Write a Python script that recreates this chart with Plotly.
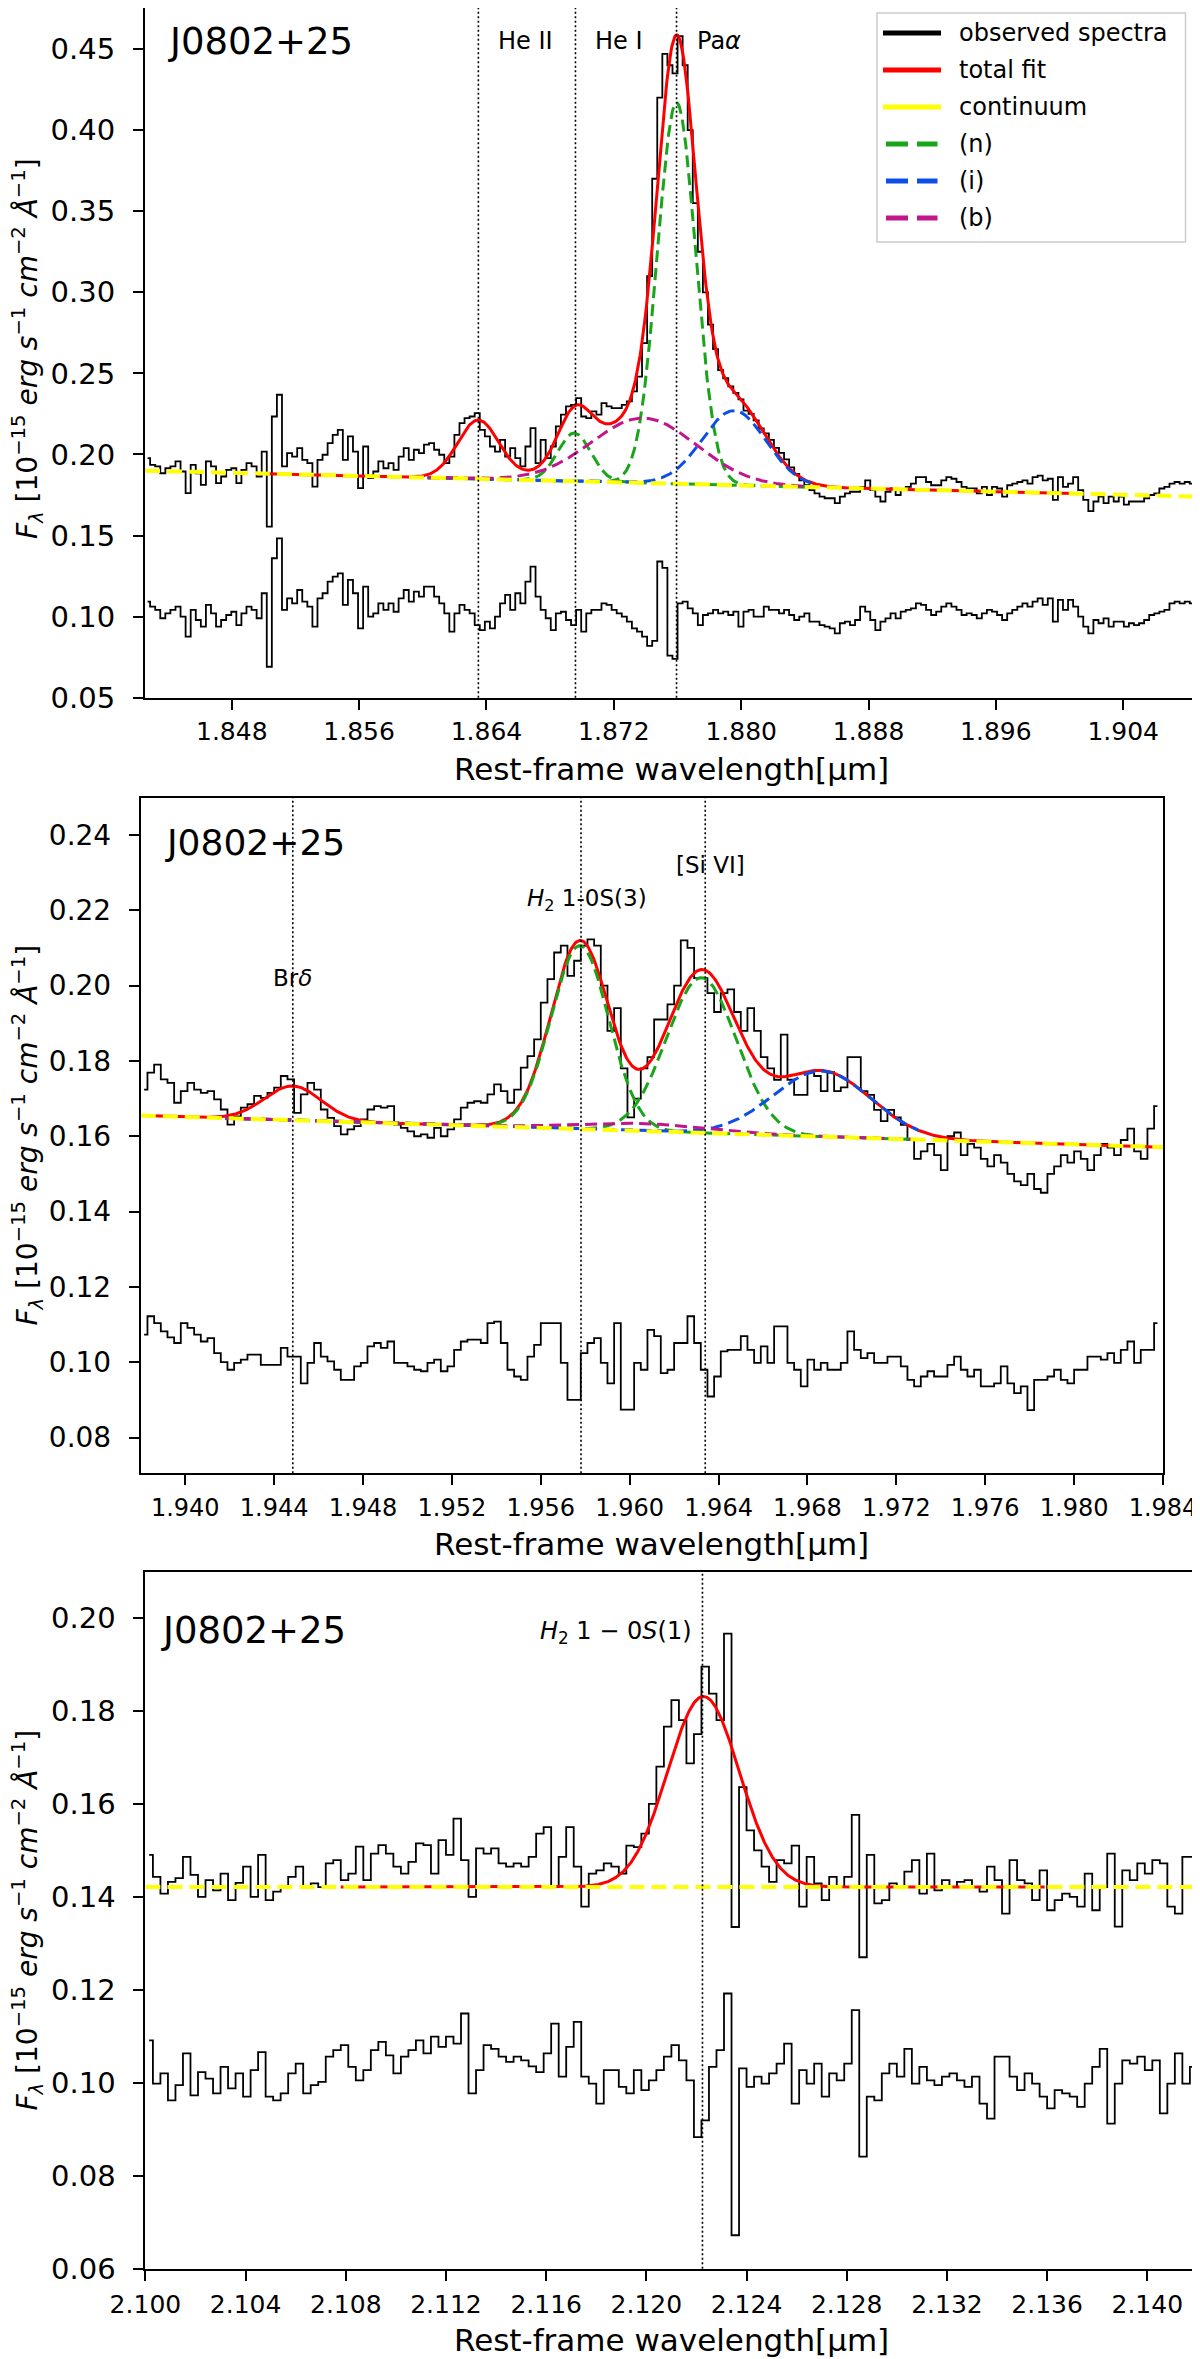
import numpy as np
import plotly.graph_objects as go

# ---------------- data ----------------
# Panel 1 : He II / He I / Pa alpha region (binned spectrum, bin centres = WAVE0 + STEP*(i+0.5))
P1_WAVE0 = 1.84255
P1_STEP = 0.0003186
P1_FLUX = [
    0.1977, 0.1936, 0.1926, 0.1884, 0.1915, 0.1926, 0.1957, 0.1895, 0.1761, 0.1936,
    0.1884, 0.1812, 0.1957, 0.1926, 0.1823, 0.1864, 0.1905, 0.1915, 0.1823, 0.1905,
    0.1946, 0.1926, 0.1864, 0.2018, 0.1555, 0.2234, 0.2368, 0.1926, 0.2008, 0.1987,
    0.2039, 0.1967, 0.1946, 0.1802, 0.1967, 0.1998, 0.2070, 0.2121, 0.2152, 0.1967,
    0.2111, 0.2018, 0.1792, 0.2049, 0.1854, 0.1895, 0.1957, 0.1915, 0.1946, 0.1905,
    0.1987, 0.2039, 0.1967, 0.2029, 0.2008, 0.2060, 0.2070, 0.2029, 0.1998, 0.1946,
    0.1987, 0.2121, 0.2193, 0.2224, 0.2234, 0.2255, 0.2152, 0.2111, 0.2049, 0.2018,
    0.2090, 0.1987, 0.2039, 0.1977, 0.1926, 0.2049, 0.2162, 0.1946, 0.2090, 0.1977,
    0.2049, 0.2173, 0.2245, 0.2296, 0.2306, 0.2347, 0.2234, 0.2224, 0.2265, 0.2245,
    0.2317, 0.2296, 0.2286, 0.2286, 0.2306, 0.2327, 0.2389, 0.2480, 0.2687,
    0.310, 0.370, 0.420, 0.447, 0.440, 0.435, 0.458, 0.440, 0.400, 0.355,
    0.325, 0.300, 0.280, 0.265,
    0.252, 0.247, 0.242, 0.238, 0.234, 0.227, 0.225, 0.221, 0.216, 0.213,
    0.209, 0.204, 0.201, 0.197, 0.192, 0.188, 0.184, 0.181, 0.178, 0.176,
    0.174, 0.173, 0.173, 0.170, 0.174, 0.176, 0.177, 0.177, 0.180, 0.184,
    0.178, 0.174, 0.171, 0.177, 0.179, 0.175, 0.178, 0.180, 0.182, 0.186,
    0.186, 0.183, 0.181, 0.181, 0.184, 0.186, 0.185, 0.183, 0.180, 0.179,
    0.179, 0.176, 0.180, 0.175, 0.180, 0.179, 0.174, 0.181, 0.182, 0.183,
    0.184, 0.182, 0.186, 0.187, 0.184, 0.185, 0.172, 0.186, 0.180, 0.182,
    0.186, 0.178, 0.172, 0.165, 0.171, 0.174, 0.170, 0.174, 0.171, 0.174,
    0.169, 0.171, 0.171, 0.171, 0.173, 0.175, 0.176, 0.179, 0.180, 0.182,
    0.183, 0.182, 0.183, 0.182, 0.180,
]
P1_RESID = [
    0.1092, 0.1062, 0.1041, 0.0990, 0.1020, 0.1041, 0.1062, 0.1000, 0.0876, 0.1041,
    0.0979, 0.0938, 0.1072, 0.1020, 0.0938, 0.0979, 0.1010, 0.1030, 0.0948, 0.1020,
    0.1062, 0.1041, 0.0990, 0.1144, 0.0691, 0.1360, 0.1483, 0.1041, 0.1113, 0.1082,
    0.1164, 0.1092, 0.1062, 0.0938, 0.1113, 0.1144, 0.1216, 0.1247, 0.1267, 0.1072,
    0.1226, 0.1144, 0.0928, 0.1185, 0.1000, 0.1020, 0.1082, 0.1041, 0.1082, 0.1030,
    0.1113, 0.1164, 0.1092, 0.1154, 0.1123, 0.1185, 0.1185, 0.1123, 0.1082, 0.1020,
    0.0907, 0.1020, 0.1072, 0.1041, 0.1020, 0.0948, 0.0917, 0.0969, 0.0928, 0.1000,
    0.1082, 0.1134, 0.1041, 0.1144, 0.1082, 0.1216, 0.1308, 0.1123, 0.1041, 0.0990,
    0.0917, 0.1020, 0.1030, 0.0979, 0.0948, 0.1041, 0.0907, 0.1020, 0.1041, 0.1041,
    0.1082, 0.1072, 0.1041, 0.1020, 0.1000, 0.0969, 0.0928, 0.0907, 0.0876,
    0.0820, 0.0850, 0.1340, 0.1300, 0.0760, 0.0740,
    0.1082, 0.1092, 0.1051, 0.1020, 0.0948, 0.1010, 0.1020, 0.1041, 0.1020, 0.1031,
    0.1010, 0.1031, 0.0938, 0.1031, 0.1041, 0.1000, 0.1000, 0.1062, 0.1041, 0.1041,
    0.1020, 0.1041, 0.1010, 0.0979, 0.1000, 0.1020, 0.0969, 0.0969, 0.0948, 0.0938,
    0.0928, 0.0897, 0.0959, 0.0969, 0.0948, 0.0979, 0.1062, 0.1031, 0.0979, 0.0917,
    0.0969, 0.0989, 0.1020, 0.0989, 0.1031, 0.1041, 0.1051, 0.1082, 0.1072, 0.1041,
    0.1010, 0.1031, 0.1062, 0.1082, 0.1062, 0.1041, 0.1010, 0.1020, 0.1010, 0.0989,
    0.1020, 0.1041, 0.1031, 0.1010, 0.0979, 0.1020, 0.1041, 0.1062, 0.1082, 0.1062,
    0.1092, 0.1113, 0.1072, 0.1113, 0.0969, 0.1103, 0.1041, 0.1103, 0.1062, 0.1000,
    0.0938, 0.0897, 0.0979, 0.0959, 0.0989, 0.0938, 0.0969, 0.0969, 0.0938, 0.0959,
    0.0948, 0.0959, 0.0979, 0.1010, 0.1020, 0.1031, 0.1041, 0.1082, 0.1092, 0.1082,
    0.1092, 0.1082, 0.1062,
]
P1_XRANGE = [1.842547, 1.908668]
P1_YRANGE = [0.05, 0.4753]
P1_CONT = [0.190, 0.174]            # continuum at the two ends of the x range
P1_FIT_WIN = [1.8496, 1.9012]
P1_COMP_WIN = [1.8603, 1.8844]
# gaussian components: (centre [um], peak above continuum, sigma [um])
P1_NARROW = [(1.86952, 0.0297, 0.00104), (1.87594, 0.235, 0.00120)]
P1_INTER = [(1.87956, 0.046, 0.0020)]
P1_BROAD = [(1.87388, 0.040, 0.0033)]
P1_OTHER = [(1.86348, 0.036, 0.00130)]   # He II, only in the total fit
P1_LINES = [1.86349, 1.86959, 1.87594]
P1_LINE_NAMES = ["He II", "He I", "Pa<i>α</i>"]

# Panel 2 : Br delta / H2 1-0 S(3) / [Si VI]
P2_WAVE0 = 1.938
P2_STEP = 0.0003
P2_FLUX = [
    0.1724, 0.1769, 0.1790, 0.1751, 0.1742, 0.1689, 0.1720, 0.1742, 0.1724, 0.1715,
    0.1720, 0.1698, 0.1671, 0.1631, 0.1653, 0.1676, 0.1685, 0.1707, 0.1702, 0.1715,
    0.1729, 0.1760, 0.1751, 0.1662, 0.1711, 0.1742, 0.1724, 0.1671, 0.1649, 0.1627,
    0.1605, 0.1618, 0.1627, 0.1645, 0.1671, 0.1680, 0.1676, 0.1680, 0.1631, 0.1622,
    0.1613, 0.1600, 0.1605, 0.1596, 0.1622, 0.1600, 0.1618, 0.1645, 0.1676, 0.1689,
    0.1693, 0.1689, 0.1711, 0.1738, 0.1720, 0.1689, 0.1724, 0.1782, 0.1813, 0.1857,
    0.1955, 0.2017, 0.2088, 0.2106, 0.2026, 0.2066, 0.2106, 0.2123, 0.2106,
    0.200, 0.188, 0.194, 0.178, 0.165, 0.170, 0.178, 0.181, 0.191, 0.191,
    0.195, 0.200, 0.212, 0.210, 0.202, 0.202, 0.198, 0.193, 0.198, 0.199,
    0.193, 0.188, 0.194, 0.188, 0.181, 0.178, 0.175, 0.187, 0.175, 0.171,
    0.171, 0.177, 0.176, 0.172, 0.177, 0.172, 0.173, 0.181, 0.181, 0.172,
    0.171, 0.167, 0.164, 0.167, 0.165, 0.163, 0.159, 0.154, 0.156, 0.158,
    0.155, 0.151, 0.160, 0.161, 0.155, 0.158, 0.157, 0.154, 0.152, 0.155,
    0.153, 0.150, 0.148, 0.147, 0.150, 0.146, 0.145, 0.150, 0.152, 0.155,
    0.153, 0.156, 0.154, 0.151, 0.155, 0.158, 0.157, 0.155, 0.159, 0.162,
    0.156, 0.154, 0.162, 0.168,
]
P2_RESID = [
    0.1073, 0.1122, 0.1104, 0.1082, 0.1066, 0.1051, 0.1104, 0.1091, 0.1073, 0.1055,
    0.1064, 0.1024, 0.1000, 0.0980, 0.0998, 0.1007, 0.1020, 0.1020, 0.0993, 0.0993,
    0.0993, 0.1038, 0.1015, 0.1015, 0.0944, 0.0998, 0.1051, 0.1015, 0.1002, 0.0980,
    0.0953, 0.0953, 0.0989, 0.0998, 0.1042, 0.1051, 0.1038, 0.1055, 0.0998, 0.0998,
    0.0989, 0.0980, 0.0976, 0.0998, 0.1007, 0.0976, 0.0989, 0.1033, 0.1055, 0.1060,
    0.1060, 0.1051, 0.1104, 0.1108, 0.1051, 0.0980, 0.0962, 0.0953, 0.1015, 0.1046,
    0.1104, 0.1104, 0.1104, 0.0998, 0.0900, 0.0900, 0.1024, 0.1051, 0.1064, 0.0998,
    0.0944, 0.1104, 0.0874, 0.0874, 0.0998, 0.0980, 0.1086, 0.1069, 0.0971, 0.0980,
    0.1051, 0.1051, 0.1122, 0.1051, 0.0980, 0.0909, 0.0962, 0.1029, 0.1033, 0.1033,
    0.1069, 0.1033, 0.0998, 0.1042, 0.0998, 0.1095, 0.1095, 0.0998, 0.0980, 0.0936,
    0.1007, 0.0980, 0.0998, 0.0980, 0.0980, 0.0998, 0.1082, 0.1033, 0.1011, 0.1024,
    0.0998, 0.0998, 0.1015, 0.1015, 0.0989, 0.0953, 0.0936, 0.0962, 0.0976, 0.0962,
    0.0962, 0.0993, 0.1015, 0.0980, 0.0962, 0.0980, 0.0936, 0.0936, 0.0944, 0.0989,
    0.0944, 0.0918, 0.0936, 0.0873, 0.0953, 0.0953, 0.0962, 0.0980, 0.0953, 0.0944,
    0.0980, 0.0980, 0.1015, 0.1015, 0.1007, 0.1024, 0.0998, 0.1033, 0.1055, 0.0998,
    0.1033, 0.1033, 0.1104,
]
P2_XRANGE = [1.938, 1.984]
P2_YRANGE = [0.0705, 0.2499]
P2_CONT = [0.1655, 0.1571]
P2_FIT_WIN = [1.938, 1.984]
P2_COMP_WIN = [1.9418, 1.9730]
P2_NARROW = [(1.95776, 0.0487, 0.00130), (1.96323, 0.0412, 0.00157)]
P2_INTER = [(1.96865, 0.0174, 0.0022)]
P2_BROAD = [(1.9605, 0.0020, 0.0030)]
P2_OTHER = [(1.94484, 0.0091, 0.00128)]   # Br delta
P2_LINES = [1.94484, 1.95781, 1.96340]
P2_LINE_NAMES = ["Br<i>δ</i>", "<i>H</i><sub>2</sub> 1-0S(3)", "[Si VI]"]

# Panel 3 : H2 1-0 S(1)
P3_WAVE0 = 2.100
P3_STEP = 0.0003
P3_FLUX = [
    0.1490, 0.1443, 0.1407, 0.1432, 0.1440, 0.1486, 0.1447, 0.1400, 0.1436, 0.1414,
    0.1450, 0.1393, 0.1430, 0.1465, 0.1400, 0.1490, 0.1393, 0.1411, 0.1421, 0.1443,
    0.1465, 0.1421, 0.1429, 0.1421, 0.1472, 0.1479, 0.1436, 0.1450, 0.1508, 0.1436,
    0.1493, 0.1511, 0.1493, 0.1465, 0.1450, 0.1475, 0.1515, 0.1511, 0.1450, 0.1522,
    0.1490, 0.1568, 0.1479, 0.1400, 0.1504, 0.1493, 0.1504, 0.1472, 0.1465, 0.1472,
    0.1465, 0.1486, 0.1536, 0.1550, 0.1421, 0.1486, 0.1550, 0.1465, 0.1379, 0.1450,
    0.1457, 0.1472, 0.1465, 0.1450, 0.1510, 0.1507, 0.1536, 0.1600, 0.1680, 0.1766,
    0.1823, 0.1780, 0.1687, 0.1750, 0.1895, 0.1837, 0.1780, 0.1966, 0.1335, 0.1636,
    0.1543, 0.1500, 0.1465, 0.1432, 0.1479, 0.1472, 0.1510, 0.1379, 0.1486, 0.1429,
    0.1393, 0.1443, 0.1421, 0.1443, 0.1576, 0.1270, 0.1490, 0.1386, 0.1393, 0.1429,
    0.1421, 0.1454, 0.1479, 0.1407, 0.1493, 0.1414, 0.1436, 0.1421, 0.1432, 0.1436,
    0.1421, 0.1411, 0.1465, 0.1436, 0.1364, 0.1479, 0.1436, 0.1429, 0.1393, 0.1457,
    0.1371, 0.1393, 0.1407, 0.1400, 0.1379, 0.1450, 0.1371, 0.1421, 0.1493, 0.1336,
    0.1457, 0.1436, 0.1472, 0.1450, 0.1479, 0.1472, 0.1379, 0.1364, 0.1486, 0.1486,
]
P3_RESID = [
    0.1091, 0.0998, 0.1020, 0.0962, 0.0995, 0.1063, 0.0973, 0.1023, 0.1009, 0.0977,
    0.1034, 0.0988, 0.1020, 0.0970, 0.1027, 0.1066, 0.0970, 0.0962, 0.0977, 0.1020,
    0.1041, 0.0977, 0.0995, 0.1002, 0.1056, 0.1070, 0.1081, 0.1034, 0.1005, 0.1027,
    0.1070, 0.1088, 0.1059, 0.1020, 0.1056, 0.1070, 0.1091, 0.1063, 0.1099, 0.1077,
    0.1099, 0.1084, 0.1149, 0.0977, 0.1027, 0.1081, 0.1073, 0.1056, 0.1045, 0.1056,
    0.1048, 0.1035, 0.1023, 0.1063, 0.1127, 0.1013, 0.1077, 0.1131, 0.1013, 0.0998,
    0.0955, 0.1027, 0.1027, 0.0991, 0.0977, 0.1027, 0.0984, 0.1005, 0.1027, 0.1056,
    0.1081, 0.1048, 0.1005, 0.0883, 0.0919, 0.1034, 0.1070, 0.1192, 0.0672, 0.1031,
    0.0991, 0.1013, 0.0998, 0.1020, 0.1041, 0.1084, 0.0955, 0.1027, 0.0998, 0.1041,
    0.0970, 0.1020, 0.1005, 0.1041, 0.1156, 0.0841, 0.0970, 0.0962, 0.1020, 0.1041,
    0.1013, 0.1073, 0.0998, 0.1034, 0.1005, 0.0995, 0.1013, 0.1020, 0.1005, 0.0991,
    0.1013, 0.0955, 0.0923, 0.1056, 0.1056, 0.1013, 0.0984, 0.1020, 0.0998, 0.0970,
    0.0945, 0.0984, 0.0977, 0.0970, 0.0948, 0.0998, 0.1034, 0.1073, 0.0912, 0.0998,
    0.1048, 0.1041, 0.1056, 0.1027, 0.1048, 0.0934, 0.0998, 0.1063, 0.0998, 0.1034,
]
P3_XRANGE = [2.100, 2.142]
P3_YRANGE = [0.06, 0.2098]
P3_CONT = [0.1421, 0.1421]
P3_FIT_WIN = [2.1078, 2.1359]
P3_COMP_WIN = None
P3_NARROW = []
P3_INTER = []
P3_BROAD = []
P3_OTHER = [(2.12228, 0.041, 0.00143)]
P3_LINES = [2.12224]
P3_LINE_NAMES = ["<i>H</i><sub>2</sub> 1 − 0<i>S</i>(1)"]

OBJECT_NAME = "J0802+25"
LEGEND_NAMES = ["observed spectra", "total fit", "continuum", "(n)", "(i)", "(b)"]

# ---------------- styling / layout ----------------
# the page body adds an 8 px margin, so the figure is 8 px smaller and all
# positions below are given in page pixels and shifted back by that offset
PAGE_W, PAGE_H, OFF = 1200, 2359, 8
W, H = PAGE_W - OFF, PAGE_H - OFF
FONT = "DejaVu Sans"
RED, YELLOW = "#ff0000", "#ffff00"
GREEN, BLUE, MAGENTA = "#19a519", "#0c4ee6", "#c3158a"


def px(x):
    return (x - OFF) / W


def py(y):
    return min(1.0, 1 - (y - OFF) / H)


def gauss(x, c, a, s):
    return a * np.exp(-0.5 * ((x - c) / s) ** 2)


# page-pixel boxes of the three axes: (left, right, top, bottom)
BOXES = [(145, 1197.5, 8, 697.7), (140.8, 1163, 797.7, 1473.3), (145.4, 1197.4, 1572.3, 2268.7)]
YLABEL_MID = [349, 1135.5, 1920.5]

panels = [
    dict(w0=P1_WAVE0, st=P1_STEP, flux=P1_FLUX, res=P1_RESID, xr=P1_XRANGE, yr=P1_YRANGE,
         cont=P1_CONT, fit=P1_FIT_WIN, comp=P1_COMP_WIN, n=P1_NARROW, i=P1_INTER,
         b=P1_BROAD, o=P1_OTHER, lines=P1_LINES, names=P1_LINE_NAMES,
         xt=(1.848, 1.904, 0.008), yt=(0.05, 0.45, 0.05), xfs=25, yfs=29, xstand=0),
    dict(w0=P2_WAVE0, st=P2_STEP, flux=P2_FLUX, res=P2_RESID, xr=P2_XRANGE, yr=P2_YRANGE,
         cont=P2_CONT, fit=P2_FIT_WIN, comp=P2_COMP_WIN, n=P2_NARROW, i=P2_INTER,
         b=P2_BROAD, o=P2_OTHER, lines=P2_LINES, names=P2_LINE_NAMES,
         xt=(1.940, 1.984, 0.004), yt=(0.08, 0.24, 0.02), xfs=24, yfs=28, xstand=2),
    dict(w0=P3_WAVE0, st=P3_STEP, flux=P3_FLUX, res=P3_RESID, xr=P3_XRANGE, yr=P3_YRANGE,
         cont=P3_CONT, fit=P3_FIT_WIN, comp=P3_COMP_WIN, n=P3_NARROW, i=P3_INTER,
         b=P3_BROAD, o=P3_OTHER, lines=P3_LINES, names=P3_LINE_NAMES,
         xt=(2.100, 2.140, 0.004), yt=(0.06, 0.20, 0.02), xfs=25, yfs=29, xstand=2),
]

fig = go.Figure()
shapes, annotations = [], []

for k, p in enumerate(panels, start=1):
    xa = "x" if k == 1 else f"x{k}"
    ya = "y" if k == 1 else f"y{k}"
    left, right, top, bottom = BOXES[k - 1]

    wave = p["w0"] + p["st"] * (np.arange(len(p["flux"])) + 0.5)
    fig.add_trace(go.Scatter(x=wave, y=p["flux"], mode="lines", xaxis=xa, yaxis=ya,
                             line=dict(color="black", width=1.8, shape="hvh"),
                             showlegend=False, hoverinfo="skip"))
    fig.add_trace(go.Scatter(x=wave, y=p["res"], mode="lines", xaxis=xa, yaxis=ya,
                             line=dict(color="black", width=1.8, shape="hvh"),
                             showlegend=False, hoverinfo="skip"))

    # total fit = continuum + all gaussians
    xf = np.linspace(p["fit"][0], p["fit"][1], 900)
    total = np.interp(xf, p["xr"], p["cont"])
    for g in p["n"] + p["i"] + p["b"] + p["o"]:
        total = total + gauss(xf, *g)
    fig.add_trace(go.Scatter(x=xf, y=total, mode="lines", xaxis=xa, yaxis=ya,
                             line=dict(color=RED, width=3), showlegend=False, hoverinfo="skip"))

    # individual components, each drawn on top of the continuum
    if p["comp"] is not None:
        xc = np.linspace(p["comp"][0], p["comp"][1], 700)
        cc = np.interp(xc, p["xr"], p["cont"])
        for key, col in (("n", GREEN), ("i", BLUE), ("b", MAGENTA)):
            for g in p[key]:
                fig.add_trace(go.Scatter(x=xc, y=cc + gauss(xc, *g), mode="lines",
                                         xaxis=xa, yaxis=ya,
                                         line=dict(color=col, width=3, dash="12px,6px"),
                                         showlegend=False, hoverinfo="skip"))

    fig.add_trace(go.Scatter(x=p["xr"], y=p["cont"], mode="lines", xaxis=xa, yaxis=ya,
                             line=dict(color=YELLOW, width=4, dash="15px,7px"),
                             showlegend=False, hoverinfo="skip"))

    # vertical marker lines
    for lam in p["lines"]:
        shapes.append(dict(type="line", xref=xa, yref=f"{ya} domain", x0=lam, x1=lam,
                           y0=0, y1=1, line=dict(color="black", width=1.6, dash="2px,2.5px")))

    xdom = [px(left), px(right)]
    ydom = [py(bottom), py(top)]
    xt0, xt1, xts = p["xt"]
    yt0, yt1, yts = p["yt"]
    xticks = np.round(np.arange(xt0, xt1 + xts / 2, xts), 3)
    yticks = np.round(np.arange(yt0, yt1 + yts / 2, yts), 3)
    axis_common = dict(showline=True, mirror=True, linecolor="black", linewidth=2,
                       ticks="outside", ticklen=10, tickwidth=2, tickcolor="black",
                       showgrid=False, zeroline=False, automargin=False)
    fig.layout[f"xaxis{'' if k == 1 else k}"] = dict(
        axis_common, domain=xdom, anchor=ya, range=p["xr"], tickvals=xticks,
        ticktext=[f"{v:.3f}" for v in xticks], ticklabelstandoff=p["xstand"],
        tickfont=dict(family=FONT, size=p["xfs"], color="black"))
    fig.layout[f"yaxis{'' if k == 1 else k}"] = dict(
        axis_common, domain=ydom, anchor=xa, range=p["yr"], tickvals=yticks,
        ticktext=[f"{v:.2f}" for v in yticks], ticklabelstandoff=12,
        tickfont=dict(family=FONT, size=p["yfs"], color="black"))

    # axis titles
    annotations.append(dict(xref="paper", yref="paper", x=px((left + right) / 2),
                            y=py(bottom + 71), text="Rest-frame wavelength[μm]",
                            showarrow=False, xanchor="center", yanchor="middle",
                            font=dict(family=FONT, size=31, color="black")))
    annotations.append(dict(xref="paper", yref="paper", x=px(28), y=py(YLABEL_MID[k - 1]),
                            text="<i>F</i><sub><i>λ</i></sub> [10<sup>−15</sup> <i>erg s</i>"
                                 "<sup>−1</sup> <i>cm</i><sup>−2</sup> <i>Å</i><sup>−1</sup>]",
                            textangle=-90, showarrow=False, xanchor="center", yanchor="middle",
                            font=dict(family=FONT, size=28, color="black")))

# object names
for (xl, yc, fs) in [(166, 41, 37), (162.6, 843, 36), (158.8, 1630, 37)]:
    annotations.append(dict(xref="paper", yref="paper", x=px(xl), y=py(yc), text=OBJECT_NAME,
                            showarrow=False, xanchor="left", yanchor="middle",
                            font=dict(family=FONT, size=fs, color="black")))

# line labels
for lam, name in zip(P1_LINES, P1_LINE_NAMES):
    annotations.append(dict(xref="x", yref="paper", x=lam, y=py(41), text=name, xshift=18,
                            showarrow=False, xanchor="left", yanchor="middle",
                            font=dict(family=FONT, size=24, color="black")))
for lam, name, yc, sh in zip(P2_LINES, P2_LINE_NAMES, [978, 900, 865], [0, 6, 5]):
    annotations.append(dict(xref="x2", yref="paper", x=lam, y=py(yc), text=name, xshift=sh,
                            showarrow=False, xanchor="center", yanchor="middle",
                            font=dict(family=FONT, size=23, color="black")))
annotations.append(dict(xref="x3", yref="paper", x=P3_LINES[0], y=py(1632), text=P3_LINE_NAMES[0],
                        xshift=-8, showarrow=False, xanchor="right", yanchor="middle",
                        font=dict(family=FONT, size=24, color="black")))

# legend box (panel 1, upper right)
shapes.append(dict(type="rect", xref="paper", yref="paper", x0=px(877), x1=px(1185.5),
                   y0=py(242), y1=py(13), line=dict(color="#cccccc", width=1.5),
                   fillcolor="white", layer="above"))
leg_styles = [("black", None), (RED, None), (YELLOW, None),
              (GREEN, "22px,9px"), (BLUE, "22px,9px"), (MAGENTA, "22px,9px")]
for row, (name, (col, dash)) in enumerate(zip(LEGEND_NAMES, leg_styles)):
    yc = 33 + row * 37
    x0, x1 = (883, 941) if dash is None else (886, 937.5)
    shapes.append(dict(type="line", xref="paper", yref="paper", x0=px(x0), x1=px(x1),
                       y0=py(yc), y1=py(yc), layer="above",
                       line=dict(color=col, width=5, dash=dash or "solid")))
    annotations.append(dict(xref="paper", yref="paper", x=px(957), y=py(yc), text=name,
                            showarrow=False, xanchor="left", yanchor="middle",
                            font=dict(family=FONT, size=24, color="black")))

fig.update_layout(width=W, height=H, autosize=False,
                  margin=dict(l=0, r=0, t=0, b=0),
                  paper_bgcolor="white", plot_bgcolor="white",
                  font=dict(family=FONT, color="black"),
                  shapes=shapes, annotations=annotations, showlegend=False)

fig.write_html("out.html")
